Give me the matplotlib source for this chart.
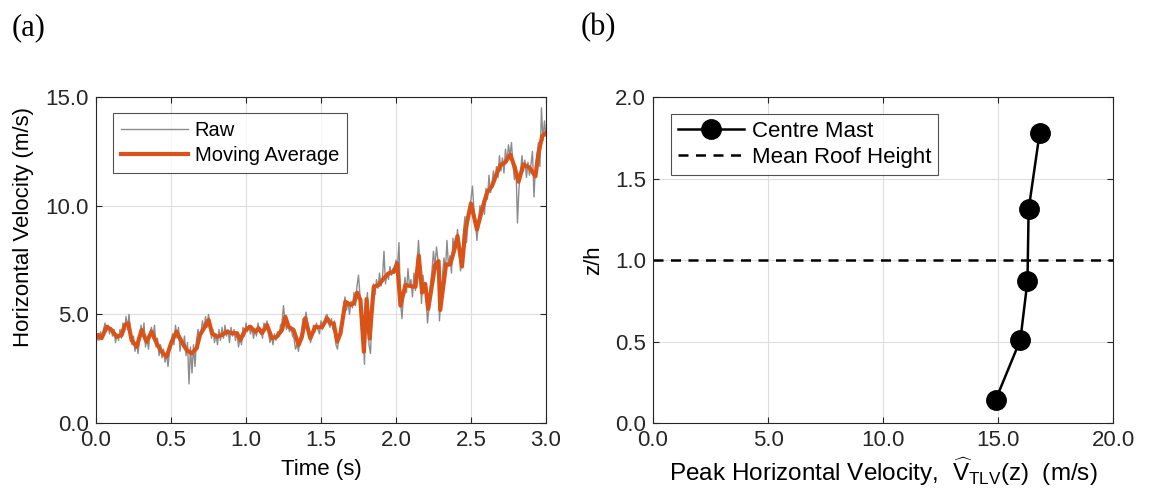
import numpy as np
import matplotlib
matplotlib.use("Agg")
import matplotlib.pyplot as plt
from matplotlib.ticker import FormatStrFormatter

plt.rcParams['font.family'] = ['Liberation Sans', 'DejaVu Sans']
plt.rcParams['mathtext.fontset'] = 'custom'
plt.rcParams['mathtext.rm'] = 'Liberation Sans'
plt.rcParams['mathtext.sf'] = 'Liberation Sans'
plt.rcParams['mathtext.it'] = 'Liberation Sans'

# raw signal, one sample every 0.01 s from 0.00 to 3.00 s
raw_v = [
    3.6, 4.1, 3.8, 4.2, 3.9, 4.3, 4.6, 4.2, 4.5, 4.1,
    4.4, 4.0, 4.3, 3.7, 4.1, 3.8, 4.3, 3.9, 4.6, 4.2,
    4.9, 4.3, 5.0, 4.1, 3.6, 4.0, 3.3, 3.7, 3.2, 3.8,
    4.5, 4.0, 4.6, 3.5, 3.9, 3.4, 4.2, 4.4, 3.9, 4.5,
    3.5, 3.9, 3.1, 3.6, 3.0, 3.4, 2.8, 3.2, 2.6, 3.3,
    3.5, 4.1, 3.6, 4.5, 3.9, 4.4, 3.3, 3.9, 3.5, 4.0,
    3.1, 3.7, 1.8, 3.5, 2.3, 3.6, 2.6, 3.8, 4.3, 3.9,
    4.2, 4.7, 4.3, 4.9, 4.4, 5.0, 4.5, 3.9, 4.3, 3.7,
    4.1, 3.6, 4.3, 3.8, 4.4, 3.9, 4.5, 4.0, 4.3, 3.7,
    4.4, 4.0, 4.3, 3.8, 4.2, 3.5, 3.9, 3.6, 4.4, 4.0,
    4.6, 4.2, 4.5, 4.1, 4.4, 3.9, 4.3, 4.0, 4.6, 4.2,
    4.3, 3.9, 4.6, 4.4, 4.7, 4.1, 3.7, 4.0, 3.6, 4.1,
    3.8, 4.2, 4.0, 4.5, 4.6, 5.4, 4.7, 4.3, 4.6, 4.2,
    4.4, 4.0, 3.9, 3.4, 3.6, 3.3, 3.9, 4.2, 4.8, 4.5,
    5.1, 4.6, 4.1, 3.7, 4.0, 4.5, 4.2, 4.6, 4.3, 4.1,
    4.7, 4.3, 4.5, 4.9, 5.0, 4.6, 4.4, 4.8, 4.3, 4.7,
    3.6, 3.4, 4.0, 4.4, 4.8, 5.3, 5.8, 5.2, 5.6, 5.0,
    5.6, 5.3, 6.0, 5.4, 6.3, 6.8, 5.9, 5.2, 4.3, 2.7,
    5.4, 6.0, 3.6, 3.2, 4.8, 6.4, 5.9, 6.6, 6.2, 6.9,
    6.3, 6.7, 7.9, 6.4, 6.9, 6.6, 7.2, 6.8, 7.1, 6.9,
    7.5, 7.2, 8.3, 5.6, 4.8, 5.9, 6.7, 6.0, 7.1, 6.3,
    6.6, 5.8, 6.9, 6.1, 7.2, 8.4, 7.3, 5.5, 6.8, 6.2,
    5.9, 4.6, 5.3, 6.4, 7.0, 7.9, 7.2, 8.1, 7.5, 4.7,
    5.9, 6.8, 7.6, 7.0, 8.4, 7.2, 7.7, 6.9, 8.5, 7.8,
    8.1, 8.9, 8.3, 7.0, 7.6, 8.8, 9.5, 8.3, 9.2, 9.9,
    10.3, 10.9, 9.8, 9.2, 8.4, 9.3, 10.0, 9.5, 10.2, 9.6,
    10.8, 10.3, 11.4, 10.6, 11.0, 11.6, 11.1, 11.8, 11.3, 12.3,
    11.6, 12.2, 11.5, 12.6, 12.0, 12.8, 12.3, 12.9, 11.9, 11.2,
    11.8, 9.2, 10.8, 11.5, 12.3, 11.6, 12.1, 11.3, 12.0, 11.4,
    11.9, 12.5, 10.4, 11.8, 12.3, 12.9, 11.8, 14.5, 13.0, 13.9,
    13.2,
]
raw_t = np.linspace(0, 3, len(raw_v))

# moving average (read at uneven times)
ma_t = [0.00, 0.015, 0.037, 0.071, 0.104, 0.137, 0.171, 0.193, 0.215, 0.237,
        0.271, 0.304, 0.337, 0.371, 0.404, 0.437, 0.471, 0.504, 0.537, 0.571,
        0.604, 0.637, 0.671, 0.693, 0.726, 0.751, 0.773, 0.806, 0.84, 0.873,
        0.906, 0.94, 0.962, 0.995, 1.029, 1.062, 1.084, 1.106, 1.14, 1.173,
        1.206, 1.24, 1.262, 1.284, 1.317, 1.351, 1.373, 1.395, 1.429, 1.462,
        1.485, 1.508, 1.541, 1.563, 1.585, 1.608, 1.63, 1.663, 1.697, 1.719,
        1.741, 1.763, 1.786, 1.804, 1.824, 1.852, 1.885, 1.919, 1.952, 1.985,
        2.008, 2.03, 2.063, 2.097, 2.13, 2.152, 2.174, 2.195, 2.215, 2.262,
        2.284, 2.295, 2.334, 2.362, 2.39, 2.41, 2.44, 2.462, 2.5, 2.54,
        2.573, 2.607, 2.64, 2.662, 2.695, 2.729, 2.762, 2.79, 2.817, 2.85,
        2.89, 2.93, 2.95, 2.975, 3.0]
ma_v = [3.9, 4.05, 3.9, 4.43, 4.28, 3.97, 4.05, 4.51, 4.59, 3.82,
        3.51, 4.28, 3.74, 4.2, 3.67, 3.28, 3.05, 3.74, 4.2, 3.74,
        3.36, 3.2, 3.44, 4.05, 4.43, 4.74, 4.13, 3.97, 4.05, 4.2,
        4.13, 4.13, 3.82, 4.28, 4.43, 4.2, 4.36, 4.13, 4.51, 3.9,
        3.97, 4.28, 4.89, 4.43, 4.28, 3.59, 3.97, 4.82, 3.9, 4.43,
        4.4, 4.43, 4.82, 4.58, 4.58, 3.74, 4.13, 5.58, 5.43, 5.51,
        6.0, 5.66, 3.28, 5.7, 3.89, 6.27, 6.35, 6.66, 6.89, 6.96,
        7.35, 5.4, 6.35, 6.3, 6.27, 7.7, 6.0, 6.4, 5.25, 7.3,
        7.45, 5.2, 7.3, 7.3, 8.0, 8.6, 7.2, 8.85, 10.1, 8.9,
        9.8, 10.6, 10.9, 11.3, 11.85, 12.0, 12.35, 11.8, 11.1, 11.9,
        11.75, 11.35, 12.4, 13.2, 13.35]

# panel (b)
peak_v = [14.89, 15.97, 16.28, 16.33, 16.81]
z_h = [0.14, 0.51, 0.87, 1.31, 1.78]
roof = 1.0

ORANGE = '#D95319'
FS = 16

fig = plt.figure(figsize=(11.54, 4.98), dpi=100)
ax1 = fig.add_axes([0.0832, 0.1506, 0.3899, 0.6546])
ax2 = fig.add_axes([0.5659, 0.1506, 0.3986, 0.6546])

for ax in (ax1, ax2):
    ax.grid(True, color='#dedede', linewidth=0.8)
    ax.set_axisbelow(True)
    ax.tick_params(direction='in', top=True, right=True, labelsize=FS,
                   length=4, width=0.8, pad=5, colors='#262626')
    for s in ax.spines.values():
        s.set_linewidth(0.8)
        s.set_color('#262626')
    ax.yaxis.set_major_formatter(FormatStrFormatter('%.1f'))
    ax.xaxis.set_major_formatter(FormatStrFormatter('%.1f'))

ax1.plot(raw_t, raw_v, color='#8c8c8c', linewidth=1.0, label='Raw')
ax1.plot(ma_t, ma_v, color=ORANGE, linewidth=3.0, label='Moving Average')
ax1.set_xlim(0, 3)
ax1.set_ylim(0, 15)
ax1.set_xticks(np.arange(0, 3.01, 0.5))
ax1.set_yticks([0, 5, 10, 15])
ax1.set_xlabel('Time (s)', fontsize=FS, labelpad=6)
ax1.set_ylabel('Horizontal Velocity (m/s)', fontsize=FS)
ax1.yaxis.set_label_coords(-0.138, 0.6)
leg1 = ax1.legend(loc='upper left', fontsize=14.5, frameon=True, fancybox=False,
                  edgecolor='#262626', handlelength=3.3, handletextpad=0.35,
                  borderpad=0.4, labelspacing=0.3, borderaxespad=0,
                  bbox_to_anchor=(0.038, 0.951))
leg1.get_frame().set_linewidth(0.8)

ax2.plot(peak_v, z_h, color='black', linewidth=1.8, marker='o', markersize=14,
         label='Centre Mast')
ax2.axhline(roof, color='black', linestyle=(0, (4, 3)), linewidth=1.8,
            label='Mean Roof Height')
ax2.set_xlim(0, 20)
ax2.set_ylim(0, 2)
ax2.set_xticks([0, 5, 10, 15, 20])
ax2.set_yticks([0, 0.5, 1.0, 1.5, 2.0])
ax2.set_ylabel('z/h', fontsize=FS, labelpad=8)
ax2.set_xlabel(r'Peak Horizontal Velocity,  $\widehat{\mathrm{V}}_{\mathrm{TLV}}\mathrm{(z)\ \ (m/s)}$',
               fontsize=17.5, labelpad=3)
leg2 = ax2.legend(loc='upper left', fontsize=16, frameon=True, fancybox=False,
                  edgecolor='#262626', handlelength=3.0, handletextpad=0.35,
                  borderpad=0.3, labelspacing=0.25, borderaxespad=0,
                  bbox_to_anchor=(0.039, 0.948))
leg2.get_frame().set_linewidth(0.8)

fig.text(0.010, 0.945, '(a)', family='Liberation Serif', fontsize=22, va='center')
fig.text(0.503, 0.945, '(b)', family='Liberation Serif', fontsize=22, va='center')

fig.savefig('out.png', dpi=100)
